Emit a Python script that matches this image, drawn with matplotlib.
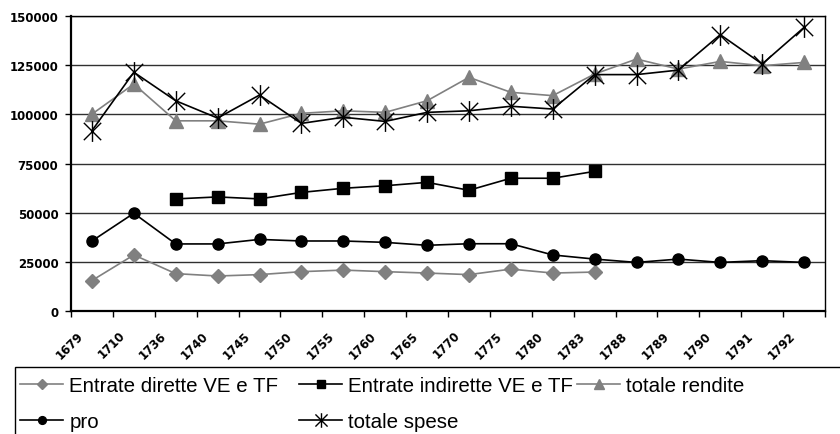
import numpy as np
import matplotlib
matplotlib.use("Agg")
import matplotlib.pyplot as plt
from matplotlib.path import Path
from matplotlib.patches import Rectangle
from matplotlib.transforms import ScaledTranslation

nan = np.nan
years = ["1679", "1710", "1736", "1740", "1745", "1750", "1755", "1760", "1765",
         "1770", "1775", "1780", "1783", "1788", "1789", "1790", "1791", "1792"]
dirette = [15500, 28500, 19000, 17800, 18500, 20000, 20800, 20000, 19300,
           18500, 21300, 19300, 19800, nan, nan, nan, nan, nan]
indirette = [nan, nan, 57000, 58000, 57000, 60300, 62400, 63700, 65400,
             61400, 67500, 67500, 71000, nan, nan, nan, nan, nan]
rendite = [100100, 115400, 96700, 96700, 95000, 100500, 101800, 101000, 106900,
           118800, 111200, 109500, 120500, 128100, 123000, 126900, 124700, 126400]
pro = [35600, 49700, 34100, 34100, 36400, 35600, 35600, 34900, 33400,
       34200, 34200, 28500, 26400, 24700, 26400, 24700, 25600, 24700]
spese = [91700, 121400, 106900, 98100, 109800, 95400, 98500, 96400, 101000,
         101800, 104100, 102700, 120200, 120200, 122500, 140500, 125600, 144200]

GRAY = "#808080"
# excel style asterisk: an X with a vertical bar
STAR = Path([(-1, -1), (1, 1), (-1, 1), (1, -1), (0, -1.2), (0, 1.2)],
            [Path.MOVETO, Path.LINETO, Path.MOVETO, Path.LINETO, Path.MOVETO, Path.LINETO])

fig = plt.figure(figsize=(8.4, 4.35), dpi=100)
ax = fig.add_axes([71 / 840, 1 - 312 / 435, 754 / 840, 295 / 435])
x = np.arange(len(years))

styles = [
    (dirette, "Entrate dirette VE e TF", dict(color=GRAY, marker="D", ms=7)),
    (indirette, "Entrate indirette VE e TF", dict(color="black", marker="s", ms=8)),
    (rendite, "totale rendite", dict(color=GRAY, marker="^", ms=10)),
    (pro, "pro", dict(color="black", marker="o", ms=8)),
    (spese, "totale spese", dict(color="black", marker=STAR, ms=15, mew=1.0)),
]
handles = {}
for vals, lab, st in styles:
    ln, = ax.plot(x, vals, lw=1.2, label=lab, **st)
    handles[lab] = ln

ax.set_xlim(-0.5, len(years) - 0.5)
ax.set_ylim(0, 150000)
ax.set_yticks(np.arange(0, 150001, 25000))
ax.set_yticklabels([f"{v:d}" for v in range(0, 150001, 25000)],
                   fontsize=8.5, fontweight="bold", family="DejaVu Sans")
ax.yaxis.grid(True, color="#303030", lw=1)
ax.set_axisbelow(True)
ax.tick_params(axis="y", length=4, width=1, pad=5)

ax.set_xticks(x)
ax.set_xticks(np.arange(-0.5, len(years)), minor=True)
ax.tick_params(axis="x", which="major", length=0, pad=0)
ax.tick_params(axis="x", which="minor", length=4, width=1)
ax.set_xticklabels(years, rotation=45, ha="right", va="center",
                   rotation_mode="anchor", fontsize=8.5, fontweight="bold")
off = ScaledTranslation(-11 / 100, -22 / 100, fig.dpi_scale_trans)
for t in ax.get_xticklabels():
    t.set_transform(t.get_transform() + off)

for side in ["left", "bottom"]:
    ax.spines[side].set_linewidth(1.6)
for side in ["top", "right"]:
    ax.spines[side].set_linewidth(1.0)

# legend box (runs past the figure edge like the original)
fig.patches.append(Rectangle((15 / 840, -0.1), 1.0, (435 - 368) / 435 + 0.1,
                             transform=fig.transFigure, fill=False,
                             edgecolor="black", lw=1.0))

cols = [(20, ["Entrate dirette VE e TF", "pro"]),
        (299, ["Entrate indirette VE e TF", "totale spese"]),
        (577, ["totale rendite"])]
for px, labs in cols:
    fig.legend(handles=[handles[l] for l in labs], labels=labs,
               loc="upper left", bbox_to_anchor=(px / 840, (435 - 377) / 435),
               frameon=False, borderpad=0, borderaxespad=0,
               handlelength=2.1, handletextpad=0.3, labelspacing=0.85,
               markerscale=0.7, prop=dict(family="Liberation Sans", size=14.8))

fig.savefig("out.png", dpi=100)
